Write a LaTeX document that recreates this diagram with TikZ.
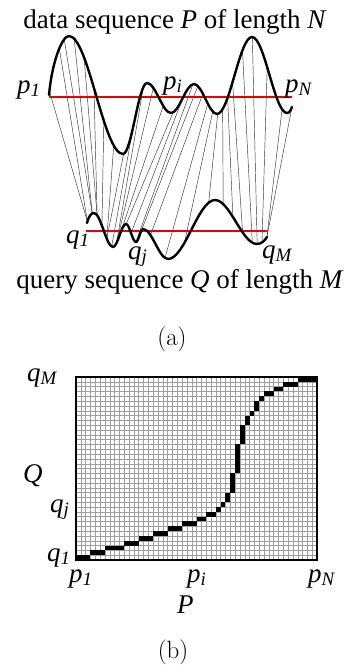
\documentclass[tikz,border=0pt]{standalone}
\usepackage{fontspec}
\newfontfamily\tnr{Liberation Serif}
\usetikzlibrary{intersections, backgrounds}

\definecolor{basered}{RGB}{235,0,0}

\tikzset{
  seq/.style={line width=2.4pt, line cap=round, line join=round},
  axisline/.style={draw=basered, line width=1.1pt},
  link/.style={black!80, line width=0.45pt},
  lbl/.style={font=\tnr\fontsize{27}{31}\selectfont, inner sep=0pt, anchor=base west},
  figtag/.style={font=\fontsize{25}{29}\selectfont, inner sep=0pt, anchor=base},
  gridline/.style={black!38, line width=0.35pt},
}

\begin{document}
\begin{tikzpicture}[x=1pt, y=-1pt]
\useasboundingbox (0,0) rectangle (344,670);

% (a) data sequence against query sequence
\node[lbl, anchor=base] (ptitle) at (175,28) {data sequence \textit{P} of length \textit{N}};
\node[lbl, anchor=base] (qtitle) at (180,288) {query sequence \textit{Q} of length \textit{M}};

\coordinate (pleft) at (49,97);
\coordinate (pright) at (292,97);
\coordinate (qleft) at (86,231);
\coordinate (qright) at (267,231);
\draw[axisline] (pleft) -- (pright);
\draw[axisline] (qleft) -- (qright);

\draw[seq, name path=pcurve] (49,95) .. controls (52,62) and (62,36) .. (69,36)
  .. controls (88.4,36) and (103.6,154) .. (123,154)
  .. controls (131.6,154) and (138.4,83) .. (147,83)
  .. controls (155.6,83) and (162.4,113) .. (171,113)
  .. controls (179.3,113) and (185.7,84) .. (194,84)
  .. controls (202.3,84) and (208.7,114) .. (217,114)
  .. controls (229.6,114) and (239.4,37) .. (252,37)
  .. controls (264.6,37) and (274.4,113) .. (287,113)
  .. controls (290,113) and (291,109) .. (292,107);

\draw[seq, name path=qcurve] (87,223) .. controls (89,216) and (91,213) .. (94,213)
  .. controls (100.8,213) and (106.2,247) .. (113,247)
  .. controls (117.7,247) and (121.3,224) .. (126,224)
  .. controls (129.6,224) and (132.4,242) .. (136,242)
  .. controls (138.5,242) and (140.5,229) .. (143,229)
  .. controls (152,229) and (159,259) .. (168,259)
  .. controls (184.9,259) and (198.1,200) .. (215,200)
  .. controls (230.1,200) and (241.9,244) .. (257,244)
  .. controls (262,244) and (265,240) .. (267,237);

% matched points, taken from the warping path below
\begin{pgfonlayer}{background}
\foreach \i/\j [count=\k] in {0/0, 2/0, 3/1, 5/1, 7/2, 9/2, 11/3, 13/4, 15/4, 17/5,
    19/6, 21/6, 23/7, 25/8, 27/9, 29/10, 30/11, 31/13, 32/16, 33/20,
    34/25, 35/28, 36/30, 37/32, 39/34, 41/35, 44/36, 47/37, 49/37}{
  \path[name path=pv] (49.4+4.95*\i,20) -- ++(0,170);
  \path[name path=qv] (87.4+4.85*\j,190) -- ++(0,80);
  \path[name intersections={of=pcurve and pv, by=pk\k}];
  \path[name intersections={of=qcurve and qv, by=qk\k}];
  \draw[link] (pk\k) -- (qk\k);
}
\end{pgfonlayer}

\node[lbl] (p1) at (17,93) {\textit{p}\textsubscript{\textit{1}}};
\node[lbl] (pi) at (163,89) {\textit{p}\textsubscript{\textit{i}}};
\node[lbl] (pN) at (285,92) {\textit{p}\textsubscript{\textit{N}}};
\node[lbl] (q1) at (66,243) {\textit{q}\textsubscript{\textit{1}}};
\node[lbl] (qj) at (128,259) {\textit{q}\textsubscript{\textit{j}}};
\node[lbl] (qM) at (262,258) {\textit{q}\textsubscript{\textit{M}}};

\node[figtag] (taga) at (172,345) {(a)};

% (b) cost matrix and warping path
\begin{scope}[shift={(76,560)}, x=4.82pt, y=4.816pt]
  \foreach \c in {1,...,49} \draw[gridline] (\c,0) -- (\c,38);
  \foreach \r in {1,...,37} \draw[gridline] (0,\r) -- (50,\r);
  \foreach \ca/\cb/\ra/\rb in {0/2/0/0, 3/5/1/1, 6/9/2/2, 10/12/3/3, 13/15/4/4,
      16/18/5/5, 19/21/6/6, 22/24/7/7, 25/26/8/8, 27/28/9/9, 29/29/10/10,
      30/30/11/11, 31/31/12/13, 32/32/14/17, 33/33/18/23, 34/34/24/27,
      35/35/28/29, 36/36/30/30, 37/37/31/32, 38/38/33/33, 39/40/34/34,
      41/42/35/35, 43/45/36/36, 46/49/37/37}
    \fill (\ca,\ra) rectangle (\cb+1,\rb+1);
  \draw[line width=1.3pt] (0,0) rectangle (50,38);
\end{scope}

\node[lbl] (bqM) at (27,381) {\textit{q}\textsubscript{\textit{M}}};
\node[lbl] (bQ) at (23,482) {\textit{Q}};
\node[lbl] (bqj) at (50,512) {\textit{q}\textsubscript{\textit{j}}};
\node[lbl] (bq1) at (47,561) {\textit{q}\textsubscript{\textit{1}}};
\node[lbl] (bp1) at (69,582) {\textit{p}\textsubscript{\textit{1}}};
\node[lbl] (bpi) at (187,582) {\textit{p}\textsubscript{\textit{i}}};
\node[lbl] (bpN) at (308,582) {\textit{p}\textsubscript{\textit{N}}};
\node[lbl] (bP) at (177,613) {\textit{P}};

\node[figtag] (tagb) at (173,658) {(b)};
\end{tikzpicture}
\end{document}
